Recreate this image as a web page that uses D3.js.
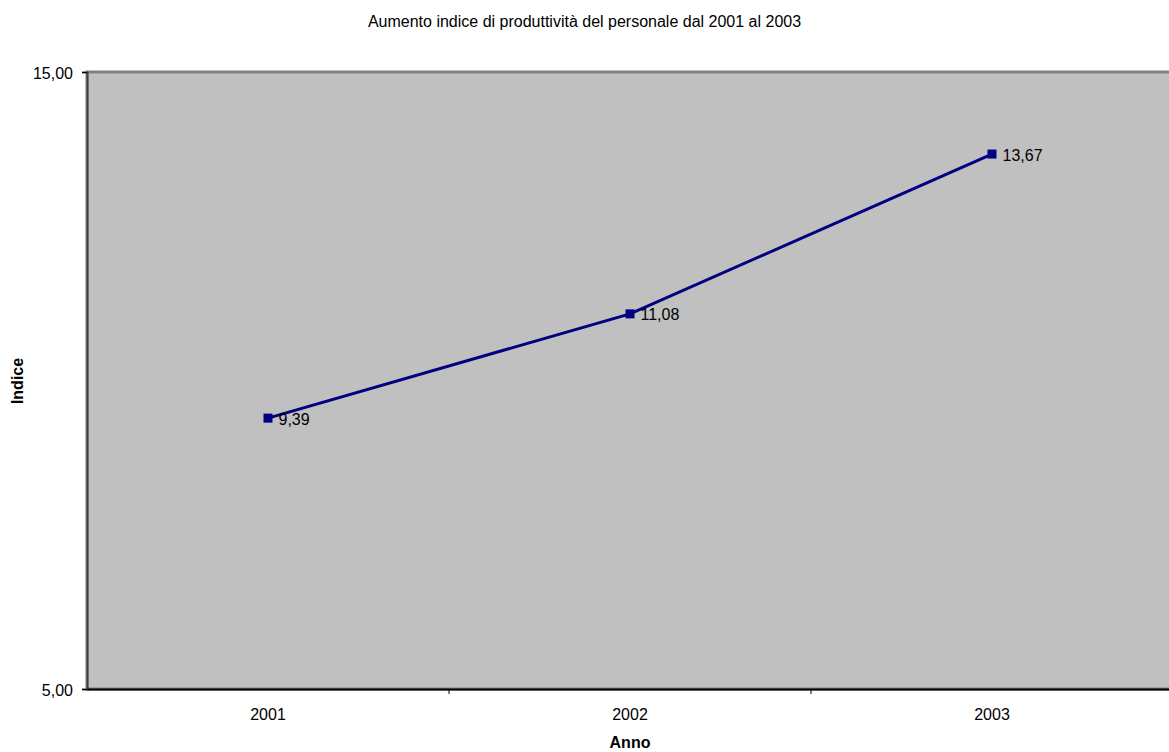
<!DOCTYPE html>
<html><head><meta charset="utf-8">
<script src="https://cdn.jsdelivr.net/npm/d3@7"></script>
<style>body{margin:0;background:#fff}svg{display:block;font-family:"Liberation Sans",Arial,sans-serif}</style>
</head><body>
<svg id="c" width="1169" height="752"></svg>
<script>
const years = ["2001","2002","2003"];
const values = [9.39, 11.08, 13.67];
const valueLabels = ["9,39","11,08","13,67"];
const yTicks = [5, 15];
const title = "Aumento indice di produttività del personale dal 2001 al 2003";

const svg = d3.select("#c");
const L = 87, T = 72, R = 1173, B = 689;
const FS = 16;
const x = d3.scaleBand().domain(years).range([L, R]);
const y = d3.scaleLinear().domain([5, 15]).range([B, T]);

svg.append("rect").attr("x", L).attr("y", T).attr("width", R - L).attr("height", B - T)
  .attr("fill", "#c0c0c0").attr("stroke", "#808080").attr("stroke-width", 3);

const fmt = d => d3.format(".2f")(d).replace(".", ",");
const ya = svg.append("g").attr("transform", `translate(${L},0)`)
  .call(d3.axisLeft(y).tickValues(yTicks).tickFormat(fmt).tickSize(5).tickPadding(9));
ya.select(".domain").attr("stroke", "#404040").attr("stroke-width", 2);
ya.selectAll("text").attr("font-size", FS).attr("fill", "#000").attr("dy", "0.4em")
  .attr("font-family", "Liberation Sans, Arial, sans-serif");

const xa = svg.append("g").attr("transform", `translate(0,${B})`)
  .call(d3.axisBottom(x).tickSize(0).tickPadding(20));
xa.select(".domain").attr("stroke", "#000").attr("stroke-width", 2);
xa.selectAll("text").attr("font-size", FS).attr("fill", "#000").attr("font-family", "Liberation Sans, Arial, sans-serif");
// category separators
svg.append("g").selectAll("line").data(years.slice(1)).join("line")
  .attr("x1", d => x(d)).attr("x2", d => x(d)).attr("y1", B).attr("y2", B + 5)
  .attr("stroke", "#000");

const line = d3.line().x((d, i) => x(years[i]) + x.bandwidth() / 2).y(d => y(d));
svg.append("path").datum(values).attr("d", line).attr("fill", "none")
  .attr("stroke", "#000080").attr("stroke-width", 3);
svg.append("g").selectAll("rect").data(values).join("rect")
  .attr("x", (d, i) => x(years[i]) + x.bandwidth() / 2 - 4.5).attr("y", d => y(d) - 4.5)
  .attr("width", 9).attr("height", 9).attr("fill", "#000080");
svg.append("g").selectAll("text").data(values).join("text")
  .attr("x", (d, i) => x(years[i]) + x.bandwidth() / 2 + 10.5).attr("y", d => y(d) + 6.5)
  .attr("font-size", FS).text((d, i) => valueLabels[i]);

svg.append("text").attr("x", 584.5).attr("y", 26.5).attr("text-anchor", "middle")
  .attr("font-size", FS).text(title);
svg.append("text").attr("x", 630).attr("y", 748).attr("text-anchor", "middle")
  .attr("font-size", FS).attr("font-weight", "bold").text("Anno");
svg.append("text").attr("transform", "translate(23,381) rotate(-90)").attr("text-anchor", "middle")
  .attr("font-size", FS).attr("font-weight", "bold").text("Indice");
</script>
</body></html>
